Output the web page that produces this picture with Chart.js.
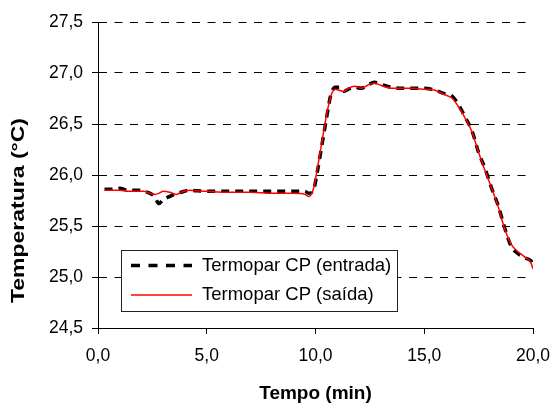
<!DOCTYPE html>
<html>
<head>
<meta charset="utf-8">
<script src="https://cdn.jsdelivr.net/npm/chart.js@4"></script>
<style>
  html, body { margin: 0; padding: 0; background: #fff; }
  #wrap { width: 551px; height: 403px; }
</style>
</head>
<body>
<div id="wrap"><canvas id="chart" width="551" height="403"></canvas></div>
<script>
// tempo (min)
const tempo = [0.3, 0.7, 1.0, 1.4, 1.9, 2.1, 2.4, 2.6, 2.8, 3.0, 3.3, 3.6, 3.8, 4.2, 5.0, 6.0, 7.0, 8.0, 9.0, 9.5,
  9.7, 9.9, 10.1, 10.3, 10.5, 10.7, 10.9, 11.1, 11.3, 11.5, 11.8, 12.1, 12.4, 12.7, 13.0, 13.5, 14.0, 14.5, 15.0, 15.5,
  15.9, 16.3, 16.6, 16.9, 17.2, 17.5, 17.8, 18.1, 18.4, 18.7, 19.0, 19.3, 19.6, 19.9, 20.0];

// Termopar CP (entrada)
const entrada = [25.86, 25.86, 25.87, 25.85, 25.85, 25.84, 25.82, 25.79, 25.72, 25.76, 25.79, 25.82, 25.83, 25.85, 25.84, 25.84, 25.84, 25.84, 25.84, 25.84,
  25.82, 25.85, 26.05, 26.30, 26.55, 26.78, 26.86, 26.86, 26.82, 26.84, 26.86, 26.85, 26.88, 26.91, 26.89, 26.86, 26.85, 26.85, 26.85, 26.83,
  26.80, 26.77, 26.68, 26.56, 26.43, 26.22, 26.06, 25.87, 25.70, 25.48, 25.30, 25.23, 25.19, 25.16, 25.13];

// Termopar CP (saída)
const saida = [25.85, 25.85, 25.85, 25.84, 25.84, 25.84, 25.82, 25.81, 25.82, 25.84, 25.83, 25.81, 25.83, 25.85, 25.84, 25.83, 25.83, 25.82, 25.82, 25.81,
  25.79, 25.86, 26.08, 26.33, 26.58, 26.77, 26.84, 26.83, 26.82, 26.85, 26.87, 26.85, 26.88, 26.90, 26.88, 26.85, 26.85, 26.85, 26.84, 26.83,
  26.79, 26.75, 26.66, 26.55, 26.42, 26.22, 26.04, 25.87, 25.69, 25.47, 25.32, 25.25, 25.20, 25.14, 25.08];

const seriesNames = ['Termopar CP (entrada)', 'Termopar CP (saída)'];
const yTitle = 'Temperatura (°C)';
const xTitle = 'Tempo (min)';

const FONT = '"Liberation Sans", Arial, sans-serif';
Chart.defaults.font.family = FONT;
Chart.defaults.color = '#000';

const toPts = (ys) => ys.map((v, i) => ({ x: tempo[i], y: v }));
const fmt = (v) => Number(v).toFixed(1).replace('.', ',');

// legend box + rotated y title
const extras = {
  id: 'extras',
  afterDraw(chart) {
    const ctx = chart.ctx;
    ctx.save();
    // legend
    ctx.fillStyle = '#fff';
    ctx.fillRect(121.5, 250.5, 276, 61);
    ctx.strokeStyle = '#222';
    ctx.lineWidth = 1;
    ctx.strokeRect(121.5, 250.5, 276, 61);

    ctx.strokeStyle = '#000';
    ctx.lineWidth = 3.5;
    ctx.setLineDash([9, 8.5]);
    ctx.beginPath(); ctx.moveTo(131, 265.5); ctx.lineTo(192, 265.5); ctx.stroke();
    ctx.setLineDash([]);
    ctx.strokeStyle = '#ff0000';
    ctx.lineWidth = 1.5;
    ctx.beginPath(); ctx.moveTo(131, 295); ctx.lineTo(192, 295); ctx.stroke();

    ctx.fillStyle = '#000';
    ctx.font = '18.5px ' + FONT;
    ctx.textAlign = 'left';
    ctx.textBaseline = 'middle';
    ctx.fillText(seriesNames[0], 202, 266);
    ctx.fillText(seriesNames[1], 202, 294.5);

    // y title
    ctx.font = 'bold 19px ' + FONT;
    const w = ctx.measureText(yTitle).width;
    ctx.translate(18.5, 210.5);
    ctx.rotate(-Math.PI / 2);
    ctx.scale(185 / w, 1);
    ctx.textAlign = 'center';
    ctx.fillText(yTitle, 0, 0);
    ctx.restore();
  }
};

new Chart(document.getElementById('chart'), {
  type: 'line',
  data: {
    datasets: [
      {
        label: seriesNames[1],
        data: toPts(saida),
        borderColor: '#ff0000',
        borderWidth: 1.5,
        pointRadius: 0,
        cubicInterpolationMode: 'monotone',
        fill: false
      },
      {
        label: seriesNames[0],
        data: toPts(entrada),
        borderColor: '#000',
        borderWidth: 3.5,
        borderDash: [8, 6],
        pointRadius: 0,
        cubicInterpolationMode: 'monotone',
        fill: false
      }
    ]
  },
  options: {
    responsive: false,
    animation: false,
    layout: { padding: { left: 0, right: 18, top: 22, bottom: 0 } },
    plugins: { legend: { display: false }, tooltip: { enabled: false } },
    scales: {
      x: {
        type: 'linear',
        min: 0,
        max: 20,
        ticks: { stepSize: 5, callback: fmt, font: { size: 17.5 }, padding: 12, maxRotation: 0 },
        grid: { drawOnChartArea: false, tickLength: 6, tickColor: '#000' },
        border: { color: '#000', width: 1 },
        title: { display: true, text: xTitle, font: { size: 19, weight: 'bold', lineHeight: 1 }, padding: { top: 0, bottom: 0 } },
        afterFit(scale) { scale.height = 75; scale.paddingLeft = 0; scale.paddingRight = 0; }
      },
      y: {
        min: 24.5,
        max: 27.5,
        ticks: { stepSize: 0.5, callback: fmt, font: { size: 17.5 }, padding: 9 },
        grid: { color: '#000', lineWidth: 1, tickLength: 6, tickColor: '#000' },
        border: { color: '#000', width: 1, dash: [8, 7.5] },
        afterFit(scale) { scale.width = 98; scale.paddingTop = 0; scale.paddingBottom = 0; }
      }
    }
  },
  plugins: [extras]
});
</script>
</body>
</html>
